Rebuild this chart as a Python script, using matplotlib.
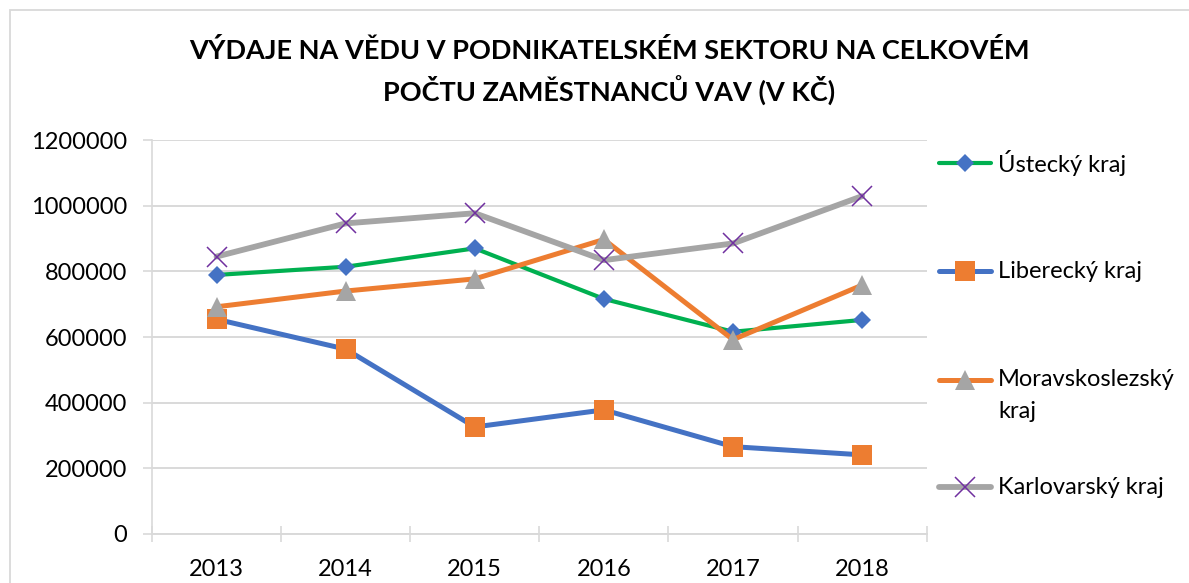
import matplotlib
matplotlib.use("Agg")
import matplotlib.pyplot as plt
from matplotlib.lines import Line2D
from matplotlib.patches import Rectangle

years = ["2013", "2014", "2015", "2016", "2017", "2018"]
ustecky = [789000, 814000, 870000, 716000, 616000, 652000]
liberecky = [654000, 563000, 326000, 378000, 266000, 241000]
moravskoslezsky = [692000, 740000, 777000, 897000, 592000, 758000]
karlovarsky = [845000, 946000, 977000, 834000, 885000, 1029000]
series_names = ["Ústecký kraj", "Liberecký kraj", "Moravskoslezský\nkraj", "Karlovarský kraj"]
title = "VÝDAJE NA VĚDU V PODNIKATELSKÉM SEKTORU NA CELKOVÉM\nPOČTU ZAMĚSTNANCŮ VAV (V KČ)"
yticks = [0, 200000, 400000, 600000, 800000, 1000000, 1200000]

plt.rcParams['font.family'] = ['Lato', 'DejaVu Sans']

W, H = 1189, 583
fig = plt.figure(figsize=(W / 100, H / 100), dpi=100)
ax = fig.add_axes([152 / W, 1 - 534 / H, (926.7 - 152) / W, (534 - 140) / H])

grid_c = "#d9d9d9"
styles = [
    dict(color="#00b050", lw=3.0, marker="D", ms=9.5, mfc="#4472c4", mec="#4472c4", mew=0),
    dict(color="#4472c4", lw=3.6, marker="s", ms=14, mfc="#ed7d31", mec="#ed7d31", mew=0),
    dict(color="#ed7d31", lw=3.6, marker="^", ms=14, mfc="#a5a5a5", mec="#a5a5a5", mew=0),
    dict(color="#a5a5a5", lw=4.2, marker="x", ms=14, mfc="#7030a0", mec="#7030a0", mew=1.1),
]
data = [ustecky, liberecky, moravskoslezsky, karlovarsky]
x = list(range(len(years)))
for i, (vals, st) in enumerate(zip(data, styles)):
    ax.plot(x, vals, solid_capstyle="round", solid_joinstyle="round", zorder=3 + i, **st)

ax.set_xlim(-0.5, len(years) - 0.5)
ax.set_ylim(0, 1200000)
ax.set_yticks(yticks)
ax.set_yticklabels([str(v) for v in yticks])
ax.set_xticks(x)
ax.set_xticklabels(years)
ax.set_xticks([i - 0.5 for i in range(len(years) + 1)], minor=True)
ax.tick_params(axis="x", which="major", length=0, pad=18, labelsize=17, labelcolor="#000000")
ax.tick_params(axis="x", which="minor", length=11.5, direction="inout", color=grid_c, width=1.2)
ax.tick_params(axis="y", which="major", length=6.5, direction="out", color=grid_c, width=1.2,
               pad=11.5, labelsize=17, labelcolor="#000000")
ax.yaxis.grid(True, color=grid_c, lw=1.4)
ax.set_axisbelow(True)
for s in ["top", "right"]:
    ax.spines[s].set_visible(False)
ax.spines["left"].set_color(grid_c)
ax.spines["left"].set_linewidth(1.2)
ax.spines["bottom"].set_color(grid_c)
ax.spines["bottom"].set_linewidth(1.4)

fig.text(609 / W, 1 - 72 / H, title, ha="center", va="center", fontsize=19.5,
         fontweight="bold", linespacing=1.5)

# legend drawn manually
leg_y = [163, 271, 380, 487]
for (name, st, yy) in zip(series_names, styles, leg_y):
    yl = 1 - yy / H
    fig.add_artist(Line2D([939 / W, 991 / W], [yl, yl], color=st["color"], lw=st["lw"],
                          solid_capstyle="round"))
    fig.add_artist(Line2D([965 / W], [yl], marker=st["marker"], ms=st["ms"], mfc=st["mfc"],
                          mec=st["mec"], mew=st["mew"], lw=0))
    for k, part in enumerate(name.split("\n")):
        fig.text(998 / W, yl - k * 31 / H, part, ha="left", va="center", fontsize=17)

fig.add_artist(Rectangle((10 / W, -0.1), 1.2, 1 - 10 / H + 0.1, fill=False,
                         edgecolor=grid_c, lw=1.3, transform=fig.transFigure))

fig.savefig("out.png", dpi=100)
